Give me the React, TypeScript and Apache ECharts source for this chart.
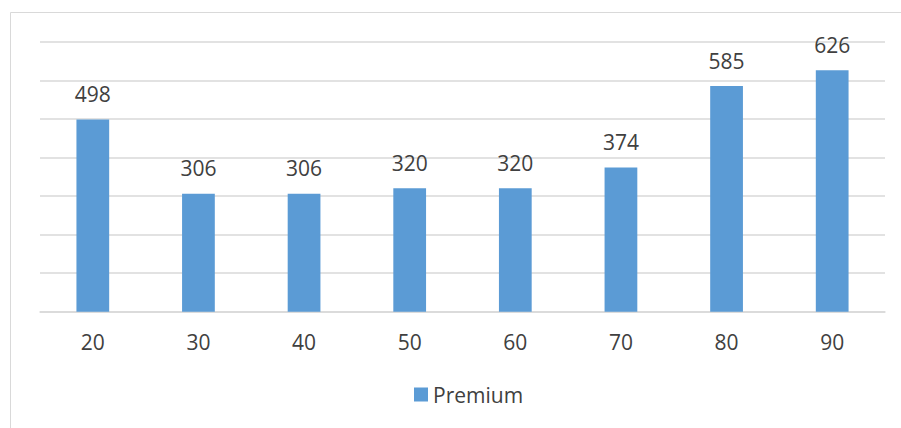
import React, { useEffect, useRef } from "react";
import * as echarts from "echarts";

const categories = ["20", "30", "40", "50", "60", "70", "80", "90"];
const premium = [498, 306, 306, 320, 320, 374, 585, 626];
const seriesName = "Premium";

const FONT = "'Open Sans', 'Noto Sans', sans-serif";
const TEXT = "#404040";
const GRID = "#d9d9d9";
const BAR = "#5b9bd5";
const FS = 21;

export default function App() {
  const ref = useRef<HTMLDivElement>(null);

  useEffect(() => {
    if (!ref.current) return;
    const chart = echarts.init(ref.current, undefined, { renderer: "svg" });
    chart.setOption({
      animation: false,
      backgroundColor: "#ffffff",
      textStyle: { fontFamily: FONT },
      graphic: [
        {
          type: "rect",
          shape: { x: 10.5, y: 12.5, width: 900, height: 430 },
          style: { fill: "none", stroke: GRID, lineWidth: 1 },
          silent: true,
        },
      ],
      grid: { left: 40, right: 16, top: 41.7, bottom: 116.3 },
      legend: {
        data: [seriesName],
        bottom: 18,
        left: 409,
        icon: "rect",
        itemWidth: 14,
        itemHeight: 14,
        itemGap: 6,
        textStyle: { color: TEXT, fontSize: FS, fontFamily: FONT },
      },
      xAxis: {
        type: "category",
        data: categories,
        axisLine: { lineStyle: { color: GRID, width: 1.5 } },
        axisTick: { show: false },
        axisLabel: { color: TEXT, fontSize: FS, margin: 20, fontFamily: FONT },
      },
      yAxis: {
        type: "value",
        min: 0,
        max: 700,
        interval: 100,
        axisLabel: { show: false },
        axisLine: { show: false },
        axisTick: { show: false },
        splitLine: { lineStyle: { color: GRID, width: 1.5 } },
      },
      series: [
        {
          name: seriesName,
          type: "bar",
          data: premium,
          barWidth: "31%",
          itemStyle: { color: BAR },
          label: {
            show: true,
            position: "top",
            distance: 15,
            color: TEXT,
            fontSize: FS,
            fontFamily: FONT,
          },
        },
      ],
    });
    return () => chart.dispose();
  }, []);

  return (
    <div
      ref={ref}
      style={{ position: "fixed", left: 0, top: 0, width: 901, height: 428 }}
    />
  );
}
